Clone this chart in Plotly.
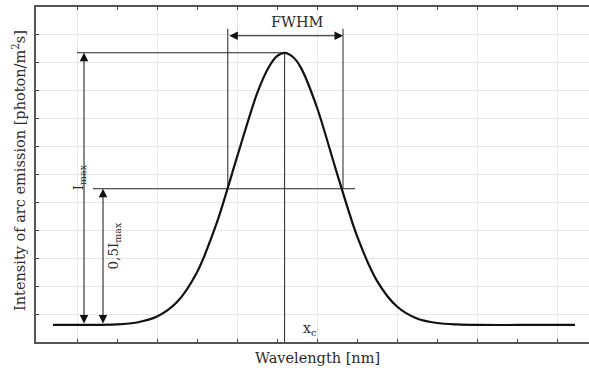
import plotly.graph_objects as go

# curve (arbitrary units: 1 x-unit = minor tick, 1 y-unit = grid step)
wavelength = [0.4, 1.0, 2.0, 2.5, 3.0, 3.5, 4.0, 4.5, 5.0, 5.5, 5.8, 6.0, 6.19,
              6.4, 6.6, 7.0, 7.5, 8.0, 8.5, 9.0, 9.5, 10.0, 10.5, 11.0, 12.0, 13.45]
intensity = [0.61, 0.61, 0.63, 0.70, 0.91, 1.43, 2.50, 4.29, 6.62, 8.90, 9.86, 10.24, 10.36,
             10.21, 9.82, 8.40, 6.04, 3.80, 2.19, 1.27, 0.84, 0.68, 0.63, 0.61, 0.61, 0.61]

# key levels of the construction
baseline = 0.61
i_max = 10.36
half_max = 5.49
x_c = 6.19
fwhm_left = 4.77
fwhm_right = 7.65
fwhm_arrow_y = 10.97

FONT = "DejaVu Serif"
INK = "#2a2a2a"

fig = go.Figure()
fig.add_trace(go.Scatter(
    x=wavelength, y=intensity, mode="lines",
    line=dict(color="#111", width=2.2, shape="spline", smoothing=0.8),
    hoverinfo="skip", showlegend=False,
))

thin = dict(color="#222", width=1)
# peak level, half level, centre line, FWHM verticals
fig.add_shape(type="line", x0=1.0, x1=x_c, y0=i_max, y1=i_max, line=thin)
fig.add_shape(type="line", x0=1.4, x1=7.95, y0=half_max, y1=half_max, line=thin)
fig.add_shape(type="line", x0=x_c, x1=x_c, y0=0, y1=i_max, line=thin)
fig.add_shape(type="line", x0=fwhm_left, x1=fwhm_left, y0=half_max, y1=11.22, line=thin)
fig.add_shape(type="line", x0=fwhm_right, x1=fwhm_right, y0=half_max, y1=11.22, line=thin)


def double_arrow(x0, y0, x1, y1):
    fig.add_annotation(
        x=x1, y=y1, ax=x0, ay=y0, xref="x", yref="y", axref="x", ayref="y",
        text="", showarrow=True, arrowhead=2, startarrowhead=2, arrowside="end+start",
        arrowsize=1.7, startarrowsize=1.7, arrowwidth=1, arrowcolor="#111",
        standoff=0, startstandoff=0,
    )


double_arrow(1.175, baseline, 1.175, i_max)
double_arrow(1.65, baseline, 1.65, half_max)
double_arrow(fwhm_left, fwhm_arrow_y, fwhm_right, fwhm_arrow_y)

txt = dict(family=FONT, size=14.5, color=INK)
fig.add_annotation(x=(fwhm_left + fwhm_right) / 2 + 0.3, y=11.1, text="FWHM",
                   showarrow=False, font=dict(family=FONT, size=14.5, color=INK),
                   yanchor="bottom")
fig.add_annotation(x=1.05, y=5.9, text="I<sub>max</sub>", textangle=-90,
                   showarrow=False, font=dict(family=FONT, size=13.5, color=INK))
fig.add_annotation(x=1.92, y=3.45, text="0,5I<sub>max</sub>", textangle=-90,
                   showarrow=False, font=dict(family=FONT, size=13.5, color=INK))
fig.add_annotation(x=6.83, y=0.45, text="x<sub>c</sub>",
                   showarrow=False, font=dict(family=FONT, size=14, color=INK))

# axis titles
fig.add_annotation(xref="paper", yref="paper", x=(317 - 36) / 553, y=-(358 - 342) / 335,
                   text="Wavelength [nm]", showarrow=False, font=txt, yanchor="middle")
fig.add_annotation(xref="paper", yref="paper", x=(19 - 36) / 553, y=(342 - 171) / 335,
                   text="Intensity of arc emission [photon/m<sup>2</sup>s]", textangle=-90,
                   showarrow=False, font=txt, xanchor="center")

fig.update_xaxes(
    range=[-0.025, 13.8], showticklabels=False,
    tickvals=[1, 3, 5, 7, 9, 11, 13], ticks="inside", ticklen=3, tickcolor="#444",
    showgrid=True, gridcolor="#e6e6e6", gridwidth=1, zeroline=False,
    showline=True, linecolor="#555", linewidth=1.5, mirror="allticks",
    minor=dict(tickvals=[0, 2, 4, 6, 8, 10, 12], ticks="inside", ticklen=3,
               tickcolor="#444", showgrid=False),
)
fig.update_yaxes(
    range=[0, 12], showticklabels=False,
    tickvals=list(range(1, 12)), ticks="inside", ticklen=3, tickcolor="#444",
    showgrid=True, gridcolor="#e6e6e6", gridwidth=1, zeroline=False,
    showline=True, linecolor="#555", linewidth=1.5, mirror=False,
)
fig.update_layout(
    width=589, height=370,
    margin=dict(l=36, r=0, t=7, b=28),
    paper_bgcolor="white", plot_bgcolor="white",
    showlegend=False,
)
# drop the browser's default body margin so the 589x370 figure fills the window
fig.write_html("out.html", config={"displayModeBar": False},
               post_script="document.body.style.margin='0';document.body.style.overflow='hidden';")
